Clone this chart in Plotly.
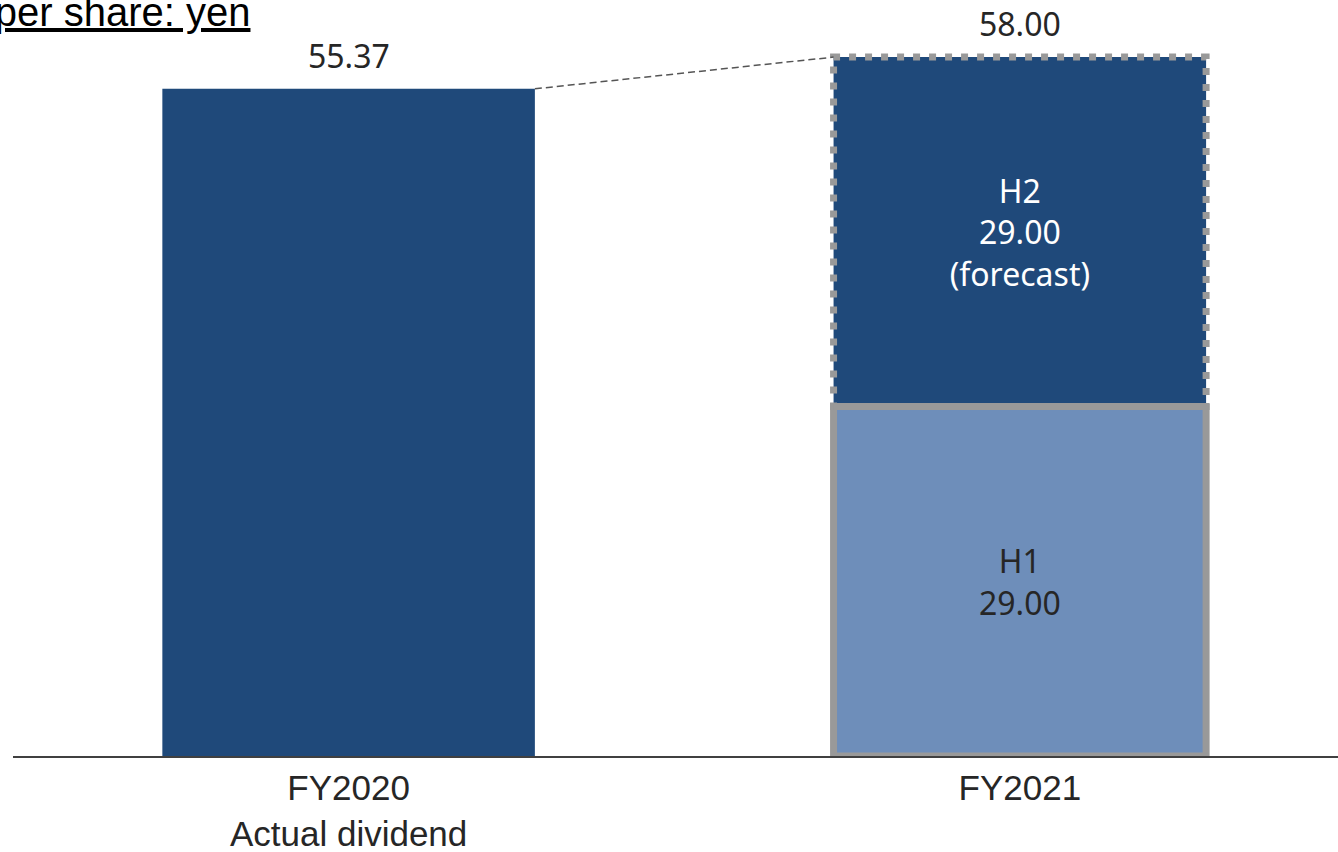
import plotly.graph_objects as go

categories = ["FY2020", "FY2021"]
tick_labels = ["FY2020<br>Actual dividend", "FY2021"]
fy2020_value = [55.37]
h1_value = [29.00]
h2_value = [29.00]
total_labels = ["55.37", "58.00"]
title_text = "Dividend per share: yen"

BW = 0.555
NAVY = "#1F497A"
LIGHT = "#6E8EBA"
GRAY = "#999999"
LBL_FONT = "Noto Sans, Open Sans, sans-serif"
AX_FONT = "Liberation Sans, Arial, sans-serif"
LBL_SIZE = 32

fig = go.Figure()
fig.add_trace(go.Bar(x=[0], y=fy2020_value, width=BW, marker=dict(color=NAVY, line=dict(width=0)),
                     hoverinfo="skip", showlegend=False))
fig.add_trace(go.Bar(x=[1], y=h1_value, width=BW, marker=dict(color=LIGHT, line=dict(width=0)),
                     text=[f"H1<br>{h1_value[0]:.2f}"], textposition="inside",
                     insidetextanchor="middle", textangle=0,
                     textfont=dict(family=LBL_FONT, size=LBL_SIZE, color="#262626"),
                     hoverinfo="skip", showlegend=False))
fig.add_trace(go.Bar(x=[1], y=h2_value, base=h1_value, width=BW, marker=dict(color=NAVY, line=dict(width=0)),
                     text=[f"H2<br>{h2_value[0]:.2f}<br>(forecast)"], textposition="inside",
                     insidetextanchor="middle", textangle=0,
                     textfont=dict(family=LBL_FONT, size=LBL_SIZE, color="white"),
                     hoverinfo="skip", showlegend=False))

total21 = h1_value[0] + h2_value[0]
# borders
fig.add_shape(type="rect", x0=1 - BW / 2, x1=1 + BW / 2, y0=0, y1=h1_value[0],
              line=dict(color=GRAY, width=7), fillcolor="rgba(0,0,0,0)", layer="above")
fig.add_shape(type="rect", x0=1 - BW / 2, x1=1 + BW / 2, y0=h1_value[0], y1=total21,
              line=dict(color=GRAY, width=7, dash="7px,9px"), fillcolor="rgba(0,0,0,0)", layer="above")
fig.add_shape(type="line", x0=1 - BW / 2, x1=1 + BW / 2, y0=h1_value[0], y1=h1_value[0],
              line=dict(color=GRAY, width=7), layer="above")
# connector
fig.add_shape(type="line", x0=0 + BW / 2, x1=1 - BW / 2, y0=fy2020_value[0], y1=total21,
              line=dict(color="#555555", width=1.5, dash="7px,4px"), layer="above")

for xi, yv, t in [(0, fy2020_value[0], total_labels[0]), (1, total21, total_labels[1])]:
    fig.add_annotation(x=xi, y=yv, text=t, showarrow=False, yanchor="bottom", yshift=10,
                       font=dict(family=LBL_FONT, size=LBL_SIZE, color="#262626"))

fig.add_annotation(xref="paper", yref="paper", x=(252 - 13) / 1325, y=1 - 12 / 756,
                   xanchor="right", yanchor="middle", text=f"<u>{title_text}</u>", showarrow=False,
                   font=dict(family=AX_FONT, size=40, color="#000000"))

fig.update_layout(
    width=1338, height=852,
    margin=dict(l=13, r=0, t=0, b=96),
    plot_bgcolor="white", paper_bgcolor="white",
    barmode="overlay",
    xaxis=dict(range=[-0.5, 1.474], tickmode="array", tickvals=[0, 1], ticktext=tick_labels,
               showline=True, linecolor="#404040", linewidth=2, showgrid=False, zeroline=False,
               ticks="", tickfont=dict(family=AX_FONT, size=35, color="#262626")),
    yaxis=dict(range=[0, 62.74], visible=False, showgrid=False, zeroline=False),
)
fig.write_html("out.html")
